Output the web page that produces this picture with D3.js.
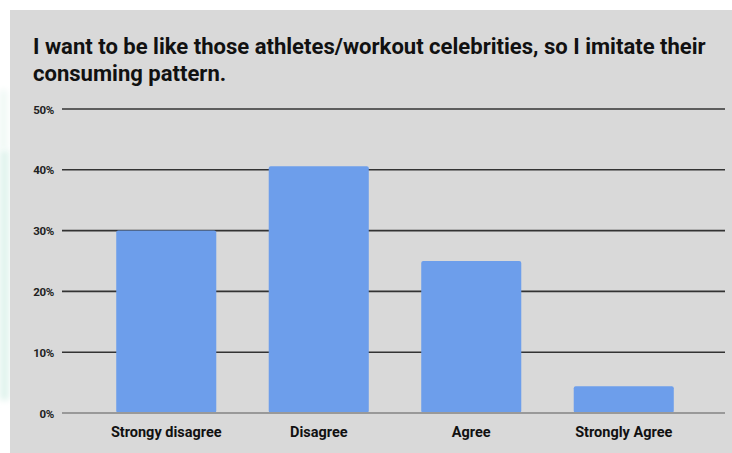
<!DOCTYPE html>
<html>
<head>
<meta charset="utf-8">
<script src="https://cdn.jsdelivr.net/npm/d3@7"></script>
<style>
  html, body { margin: 0; padding: 0; background: #fff; }
  svg { display: block; }
</style>
</head>
<body>
<svg id="chart" width="732" height="453"></svg>
<script>
// Survey answers and their share of respondents (%)
const categories = ["Strongy disagree", "Disagree", "Agree", "Strongly Agree"];
const shares = [30, 40.6, 25, 4.4];
const tickValues = [0, 10, 20, 30, 40, 50];
const titleLines = [
  "I want to be like those athletes/workout celebrities, so I imitate their",
  "consuming pattern."
];

const W = 732, H = 453;
const svg = d3.select("#chart");

// soft tinted edge on the left of the page
const defs = svg.append("defs");
const blur = defs.append("filter").attr("id", "soft").attr("x", "-50%").attr("width", "200%");
blur.append("feGaussianBlur").attr("stdDeviation", 3);
svg.append("rect").attr("x", 0).attr("y", 150).attr("width", 9).attr("height", 250)
  .attr("fill", "#dff3ec").attr("filter", "url(#soft)");
svg.append("rect").attr("x", 0).attr("y", 90).attr("width", 7).attr("height", 60)
  .attr("fill", "#eef8f4").attr("filter", "url(#soft)");

// chart panel
svg.append("rect").attr("x", 10).attr("y", 10).attr("width", W - 10).attr("height", H - 10)
  .attr("fill", "#d9d9d9");

// title
const title = svg.append("g");
titleLines.forEach((t, i) => {
  title.append("text")
    .attr("x", 33).attr("y", 54 + i * 27)
    .attr("font-family", "Roboto, sans-serif")
    .attr("font-weight", 700)
    .attr("font-size", 21)
    .attr("fill", "#111")
    .text(t);
});
// fit first line to its width
const first = title.select("text").node();
const len = first.getComputedTextLength();
const fs = 21 * 673 / len;
title.selectAll("text").attr("font-size", fs);

// scales
const x = d3.scaleBand().domain(categories).range([90, 700])
  .paddingInner(0.344).paddingOuter(0.172);
const y = d3.scaleLinear().domain([0, 50]).range([413, 109]);

const gridX0 = 62, gridX1 = 725;

// gridlines (drawn under bars)
const grid = svg.append("g");
grid.selectAll("line").data(tickValues.filter(d => d > 0)).join("line")
  .attr("x1", gridX0).attr("x2", gridX1)
  .attr("y1", d => y(d)).attr("y2", d => y(d))
  .attr("stroke", "#333").attr("stroke-width", 1.6);

// y-axis tick labels
const yAxis = d3.axisLeft(y).tickValues(tickValues).tickFormat(d => d + "%").tickSize(0).tickPadding(0);
const ya = svg.append("g").attr("transform", `translate(${gridX0 - 8},0)`).call(yAxis);
ya.select(".domain").remove();
ya.selectAll("text")
  .attr("font-family", "Roboto, sans-serif")
  .attr("font-weight", 700)
  .attr("font-size", 11.5)
  .attr("letter-spacing", "-0.3")
  .attr("fill", "#222")
  .attr("dy", "0.35em");

// bars
svg.append("g").selectAll("rect").data(categories).join("rect")
  .attr("x", d => x(d))
  .attr("width", x.bandwidth())
  .attr("y", (d, i) => y(shares[i]))
  .attr("height", (d, i) => y(0) - y(shares[i]))
  .attr("rx", 2)
  .attr("fill", "#6d9eeb");

// baseline
svg.append("line")
  .attr("x1", gridX0).attr("x2", gridX1)
  .attr("y1", y(0)).attr("y2", y(0))
  .attr("stroke", "#999").attr("stroke-width", 2);

// category labels
const xAxis = d3.axisBottom(x).tickSize(0).tickPadding(0);
const xa = svg.append("g").attr("transform", `translate(0,${y(0) + 24})`).call(xAxis);
xa.select(".domain").remove();
xa.selectAll("text")
  .attr("font-family", "Roboto, sans-serif")
  .attr("font-weight", 700)
  .attr("font-size", 14.5)
  .attr("fill", "#111")
  .attr("dy", "0");
</script>
</body>
</html>
